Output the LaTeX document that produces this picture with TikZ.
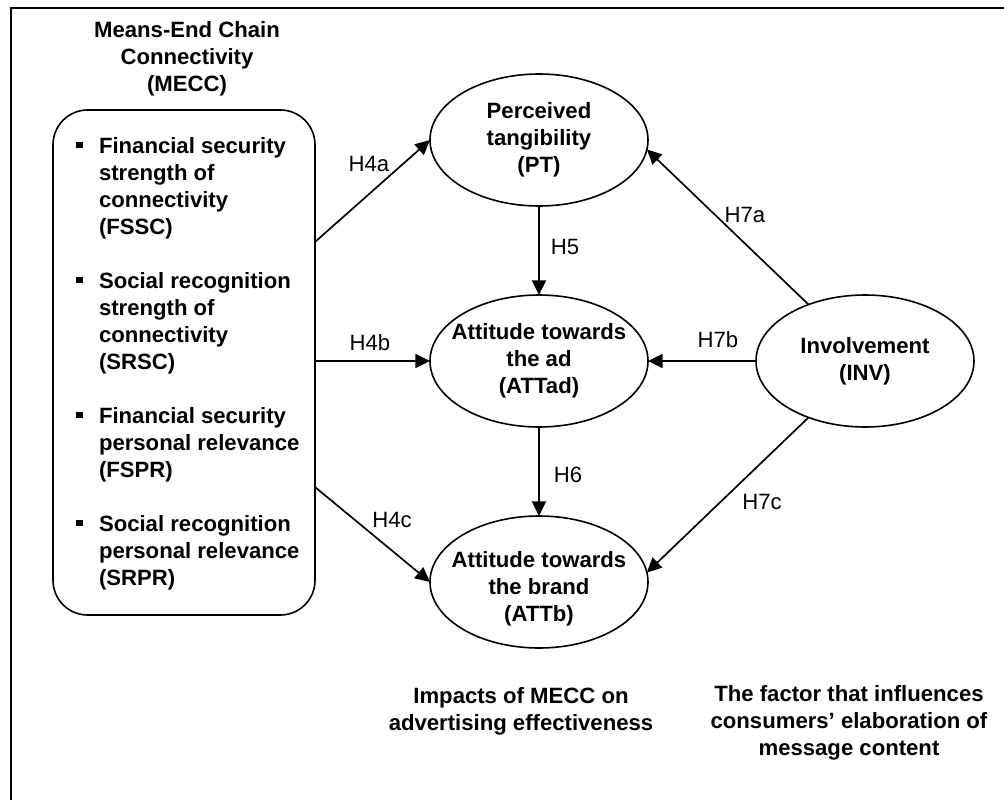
\documentclass[tikz,border=0pt]{standalone}
\usepackage{fontspec}
\setmainfont{Liberation Sans}
\usetikzlibrary{arrows.meta,shapes.geometric}
\begin{document}
\begin{tikzpicture}[x=0.75pt,y=-0.75pt,
  every node/.style={inner sep=0pt, outer sep=0pt},
  plain/.style={font=\fontsize{16.6}{20.25}\selectfont},
  bold/.style={font=\fontsize{16.6}{20.25}\selectfont\bfseries},
  construct/.style={draw, line width=1.2pt, ellipse,
    minimum width=163.5pt, minimum height=99pt},
  groupbox/.style={draw, line width=1.2pt, rounded corners=26pt,
    minimum width=196.5pt, minimum height=378.75pt},
  bulletsq/.style={fill=black, minimum size=5pt},
  path arrow/.style={draw, line width=1.25pt,
    -{Triangle[length=11pt,width=10.5pt]}}]

\useasboundingbox (0,0) rectangle (1004,800);

% outer frame (left and top edges)
\draw[line width=1.6pt] (11,800) -- (11,8) -- (1004,8);

% means-end chain connectivity group
\node[bold, align=center] (mecctitle) at (187,59) {Means-End Chain\\Connectivity\\(MECC)};
\node[groupbox] (mecc) at (184,362.5) {};

\foreach \yy/\txt [count=\i] in {
  153/Financial security, 180/strength of, 207/connectivity, 234/(FSSC),
  288/Social recognition, 315/strength of, 342/connectivity, 369/(SRSC),
  423/Financial security, 450/personal relevance, 477/(FSPR),
  531/Social recognition, 558/personal relevance, 585/(SRPR)}
  \node[bold, anchor=base west] (item\i) at (99,\yy) {\txt};

\foreach \yy [count=\i] in {153,288,423,531}
  \node[bulletsq] (dot\i) at (79.5,\yy-8) {};

% constructs
\node[construct] (pt) at (539,140) {};
\node[construct] (attad) at (539,361) {};
\node[construct] (attb) at (539,582) {};
\node[construct] (inv) at (865,361) {};

\node[bold, align=center] (pttext) at (pt) {Perceived\\tangibility\\(PT)};
\node[bold, align=center] (attadtext) at (attad) {Attitude towards\\the ad\\(ATTad)};
\node[bold, align=center] (attbtext) at ([yshift=-5.25pt]attb.center) {Attitude towards\\the brand\\(ATTb)};
\node[bold, align=center] (invtext) at (inv) {Involvement\\(INV)};

% hypothesised paths
\draw[path arrow] ([yshift=90.4pt]mecc.east) -- (pt.west);
\draw[path arrow] (mecc.east |- attad.west) -- (attad.west);
\draw[path arrow] ([yshift=-93.4pt]mecc.east) -- (attb.west);
\draw[path arrow] (pt.south) -- (attad.north);
\draw[path arrow] (attad.south) -- (attb.north);
\draw[path arrow] (inv.135) -- (pt.-5);
\draw[path arrow] (inv.west) -- (attad.east);
\draw[path arrow] (inv.225) -- (attb.5);

% hypothesis labels
\node[plain] (h4a) at (369,164) {H4a};
\node[plain] (h4b) at (370,343) {H4b};
\node[plain] (h4c) at (392,520) {H4c};
\node[plain] (h5) at (565,247) {H5};
\node[plain] (h6) at (568,475) {H6};
\node[plain] (h7a) at (745,215) {H7a};
\node[plain] (h7b) at (718,340) {H7b};
\node[plain] (h7c) at (762,502) {H7c};

% captions
\node[bold, align=center] (impacts) at (521,711) {Impacts of MECC on\\advertising effectiveness};
\node[bold, align=center] (factor) at (849,723) {The factor that influences\\consumers’ elaboration of\\message content};

\end{tikzpicture}
\end{document}
